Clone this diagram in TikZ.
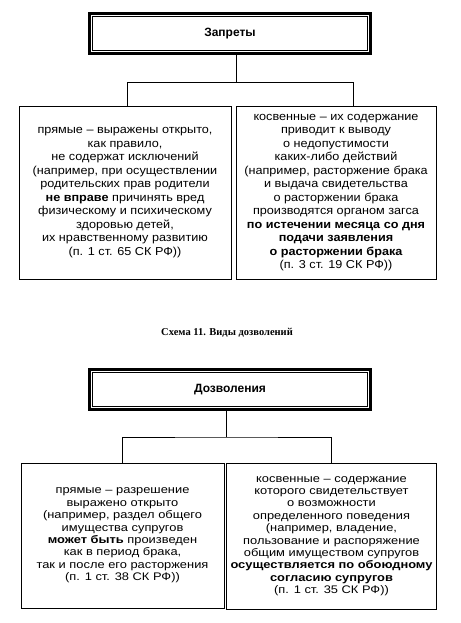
\documentclass[tikz,border=0pt]{standalone}
\usepackage{fontspec}
\setmainfont{Liberation Sans}
\newfontfamily\capfont{Liberation Serif}
\newfontfamily\verhfont[FakeStretch=1.1]{Liberation Sans}
\newfontfamily\nizfont[FakeStretch=1.17]{Liberation Sans}
\usetikzlibrary{positioning}

\begin{document}
\begin{tikzpicture}[x=1pt, y=-1pt,
		    every node/.style={inner sep=0pt, align=center},
		    line width=0.7pt
		]
		\tikzset{
		    ramka/.style={draw, line width=2.6pt, minimum width=281pt, minimum height=40pt,
		        font=\bfseries\fontsize{12}{14}\selectfont},
		    vnutr/.style={draw, line width=0.8pt},
		    blok/.style={draw, line width=0.8pt, font=\verhfont\fontsize{11.5}{13.5}\selectfont},
		    blokniz/.style={draw, line width=0.8pt, font=\nizfont\fontsize{11}{12.4}\selectfont}
		}
		\useasboundingbox (0,0) rectangle (460,623);
		% zaprety
		\node[ramka] (zaprety) at (230,33.5) {Запреты};
		\draw[vnutr] ([shift={(4,4)}]zaprety.north west) rectangle ([shift={(-4,-4)}]zaprety.south east);
		\node[blok, minimum width=212pt, minimum height=173pt] (pryamye) at (125,192.5) {%
		    прямые – выражены открыто,\\
		    как правило,\\
		    не содержат исключений\\
		    (например, при осуществлении\\
		    родительских прав родители\\
		    \textbf{не вправе} причинять вред\\
		    физическому и психическому\\
		    здоровью детей,\\
		    их нравственному развитию\\
		    (п. 1 ст. 65 СК РФ))};
		\node[blok, minimum width=200pt, minimum height=173pt] (kosvennye) at (336,192.5) {%
		    косвенные – их содержание\\
		    приводит к выводу\\
		    о недопустимости\\
		    каких-либо действий\\
		    (например, расторжение брака\\
		    и выдача свидетельства\\
		    о расторжении брака\\
		    производятся органом загса\\
		    \textbf{по истечении месяца со дня}\\
		    \textbf{подачи заявления}\\
		    \textbf{о расторжении брака}\\
		    (п. 3 ст. 19 СК РФ))};
		\coordinate (razv) at (236,82);
		\coordinate (razvL) at (127,82);
		\coordinate (razvR) at (353,82);
		\draw (zaprety.south -| razv) -- (razv);
		\draw (razvL |- pryamye.north) -- (razvL) -- (razvR) -- (razvR |- kosvennye.north);
		% shema
		\node[font=\capfont\bfseries\fontsize{10.5}{12}\selectfont] (shema) at (227,333) {Схема 11. Виды дозволений};
		% dozvoleniya
		\node[ramka] (dozvoleniya) at (230,389.5) {Дозволения};
		\draw[vnutr] ([shift={(4,4)}]dozvoleniya.north west) rectangle ([shift={(-4,-4)}]dozvoleniya.south east);
		\node[blokniz, minimum width=203pt, minimum height=145pt] (pryamye2) at (122.5,535.5) {%
		    прямые – разрешение\\
		    выражено открыто\\
		    (например, раздел общего\\
		    имущества супругов\\
		    \textbf{может быть} произведен\\
		    как в период брака,\\
		    так и после его расторжения\\
		    (п. 1 ст. 38 СК РФ))};
		\node[blokniz, minimum width=210pt, minimum height=146pt] (kosvennye2) at (331.5,536) {%
		    косвенные – содержание\\
		    которого свидетельствует\\
		    о возможности\\
		    определенного поведения\\
		    (например, владение,\\
		    пользование и распоряжение\\
		    общим имуществом супругов\\
		    \textbf{осуществляется по обоюдному}\\
		    \textbf{согласию супругов}\\
		    (п. 1 ст. 35 СК РФ))};
		\coordinate (razv2) at (226,437);
		\draw (dozvoleniya.south -| razv2) -- (razv2);
		\draw (pryamye2.north) |- (razv2) -| (kosvennye2.north);
		\end{tikzpicture}
\end{document}
